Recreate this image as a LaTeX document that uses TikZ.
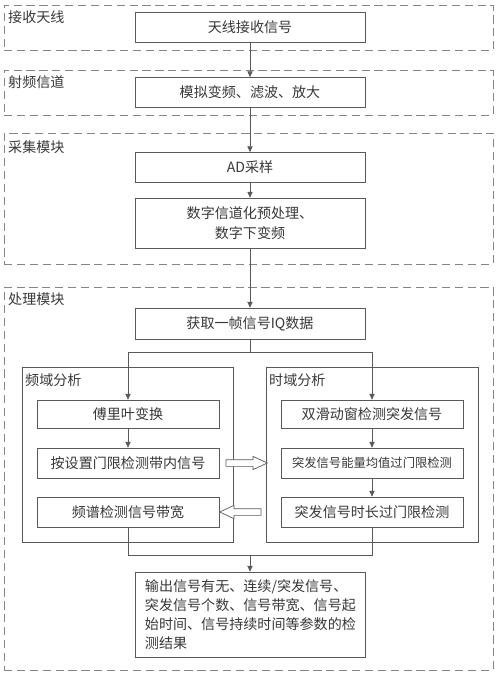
\documentclass[tikz,border=0pt]{standalone}
\usepackage{fontspec}
\setmainfont{Noto Sans CJK SC}
\usepackage{xcolor}
\definecolor{boxline}{HTML}{595959}
\definecolor{dashline}{HTML}{858585}
\definecolor{textgray}{HTML}{383838}
\usepackage{tikz}
\usetikzlibrary{positioning, fit, arrows.meta, shapes.arrows}

\begin{document}
\begin{tikzpicture}[
            x=0.03cm, y=-0.03cm,
            align=center,
            text=textgray,
            stepbox/.style={rectangle, draw=boxline, fill=white, minimum width=6.9cm, minimum height=0.9cm, line width=0.6pt},
            subbox/.style={stepbox, minimum width=5.46cm},
            modulebox/.style={rectangle, draw=dashline, dash pattern=on 7pt off 4pt, line width=0.7pt, inner sep=0pt},
            domainbox/.style={rectangle, draw=boxline, line width=0.6pt, inner sep=0pt},
            arr/.style={-{Triangle[length=5pt, width=4.5pt]}, draw=boxline, line width=0.6pt},
            link/.style={draw=boxline, line width=0.6pt},
            hollow/.style={single arrow, draw=boxline, fill=white, line width=0.6pt, inner xsep=0pt, inner ysep=0.09cm, minimum height=1.24cm, single arrow head extend=0.1cm, single arrow tip angle=50}
        ]
            \useasboundingbox (0,0) rectangle (500,676);

            % Modules
            \node[modulebox, fit={(4,5)(493,50)}] (antgroup) {};
            \node[modulebox, fit={(4,70)(493,115)}] (rfgroup) {};
            \node[modulebox, fit={(4,133)(493,264)}] (adcgroup) {};
            \node[modulebox, fit={(4,287)(493,670)}] (procgroup) {};
            \node[anchor=west, inner sep=0pt] (antlabel) at (8,17) {\fontsize{12}{15}\selectfont 接收天线};
            \node[anchor=west, inner sep=0pt] (rflabel) at (8,82) {\fontsize{12}{15}\selectfont 射频信道};
            \node[anchor=west, inner sep=0pt] (adclabel) at (8,147) {\fontsize{12}{15}\selectfont 采集模块};
            \node[anchor=west, inner sep=0pt] (proclabel) at (8,299) {\fontsize{12}{15}\selectfont 处理模块};

            % Domain boxes
            \node[domainbox, fit={(22,367)(233,542)}] (freqgroup) {};
            \node[domainbox, fit={(266,367)(478,542)}] (timegroup) {};
            \node[anchor=west, inner sep=0pt] (freqlabel) at (25,380) {\fontsize{12}{15}\selectfont 频域分析};
            \node[anchor=west, inner sep=0pt] (timelabel) at (269,380) {\fontsize{12}{15}\selectfont 时域分析};

            % Nodes
            \node[stepbox] (ant) at (250,27) {\fontsize{12}{15}\selectfont 天线接收信号};
            \node[stepbox] (rf) at (250,92.5) {\fontsize{12}{15}\selectfont 模拟变频、滤波、放大};
            \node[stepbox] (ad) at (250,167.5) {\fontsize{12}{15}\selectfont AD采样};
            \node[stepbox, minimum height=1.5cm, font=\fontsize{12}{17}\selectfont] (ddc) at (250,223) {数字信道化预处理、\\数字下变频};
            \node[stepbox, minimum height=0.93cm] (iq) at (250,323.5) {\fontsize{12}{15}\selectfont 获取一帧信号IQ数据};

            \node[subbox, minimum height=0.84cm] (fft) at (128,414) {\fontsize{12}{15}\selectfont 傅里叶变换};
            \node[subbox] (band) at (128,463) {\fontsize{12}{15}\selectfont 按设置门限检测带内信号};
            \node[subbox] (bw) at (128,512) {\fontsize{12}{15}\selectfont 频谱检测信号带宽};

            \node[subbox, minimum height=0.84cm] (dsw) at (372,414) {\fontsize{12}{15}\selectfont 双滑动窗检测突发信号};
            \node[subbox] (energy) at (372,463) {\fontsize{10.5}{14}\selectfont 突发信号能量均值过门限检测};
            \node[subbox] (dur) at (372,512) {\fontsize{12}{15}\selectfont 突发信号时长过门限检测};

            \node[stepbox, minimum height=2.55cm, text width=6.3cm, align=left, font=\fontsize{12}{16.2}\selectfont] (out) at (250,614.5) {输出信号有无、连续/突发信号、\\突发信号个数、信号带宽、信号起\\始时间、信号持续时间等参数的检\\测结果};

            \coordinate (split) at (250,352);
            \coordinate (merge) at (250,555);

            % Arrows
            \draw[arr] (ant) -- (rf);
            \draw[arr] (rf) -- (ad);
            \draw[arr] (ad) -- (ddc);
            \draw[arr] (ddc) -- (iq);
            \draw[link] (iq) -- (split);
            \draw[arr] (split) -| (fft.north);
            \draw[arr] (split) -| (dsw.north);
            \draw[arr] (fft) -- (band);
            \draw[arr] (dsw) -- (energy);
            \draw[arr] (energy) -- (dur);
            \draw[link] (bw.south) |- (merge);
            \draw[link] (dur.south) |- (merge);
            \draw[arr] (merge) -- (out);

            % Exchange between domains
            \node[hollow] (toTime) at (243,463) {};
            \node[hollow, shape border rotate=180] (toFreq) at (244,512) {};
        \end{tikzpicture}
\end{document}
